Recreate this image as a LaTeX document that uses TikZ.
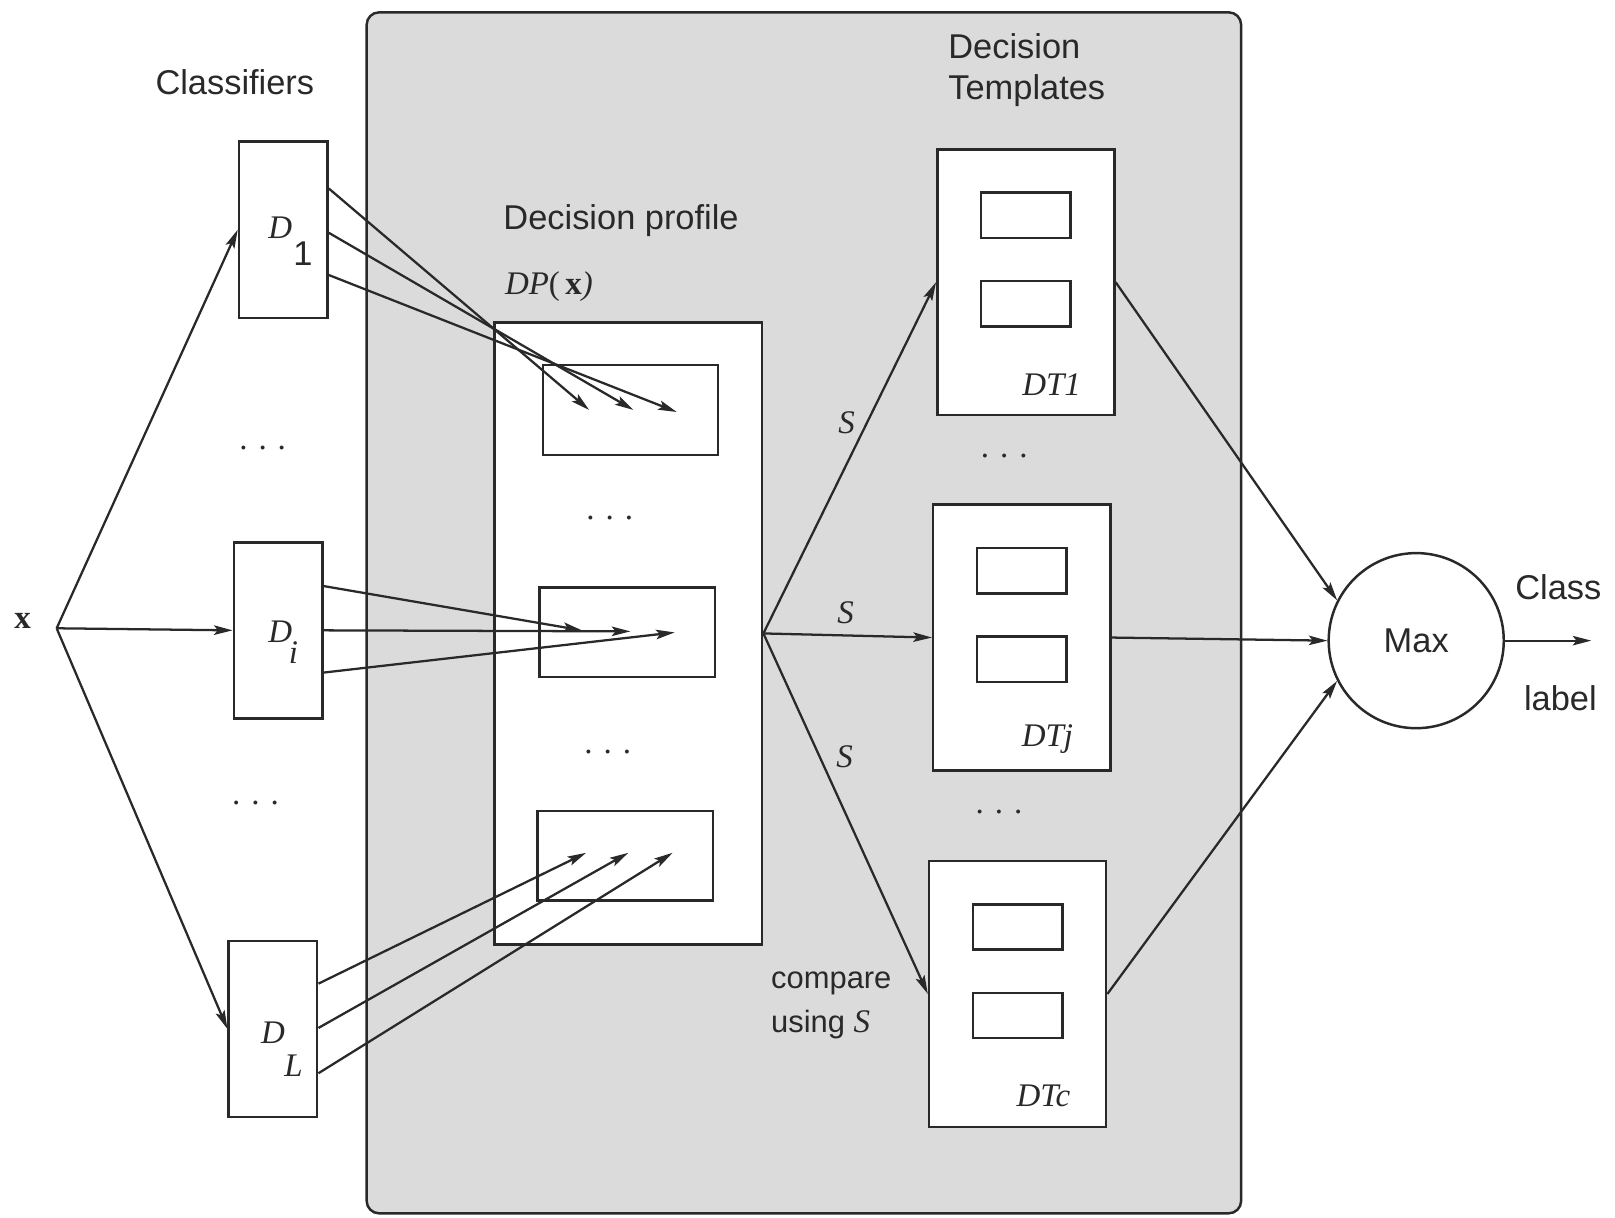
\documentclass[tikz,border=0pt]{standalone}
\usepackage{fontspec}
\setmainfont{Liberation Serif}
\setsansfont{Liberation Sans}
\usetikzlibrary{arrows.meta,calc}

\definecolor{ink}{gray}{0.16}
\definecolor{panelgray}{gray}{0.86}

\begin{document}
\begin{tikzpicture}[x=0.5pt,y=-0.5pt,color=ink,line width=1.1pt,
  sans/.style={font=\sffamily\fontsize{16.7}{19.5}\selectfont},
  smallsans/.style={font=\sffamily\fontsize{15}{21}\selectfont},
  ital/.style={font=\rmfamily\itshape\fontsize{16}{18}\selectfont},
  dotrow/.style={font=\rmfamily\fontsize{16}{16}\selectfont},
  panelbox/.style={draw,fill=panelgray,rounded corners=6pt,inner sep=0pt,line width=1.2pt},
  clsbox/.style={draw,fill=white,minimum width=43pt,minimum height=85.5pt,inner sep=0pt,line width=1.2pt},
  dpbox/.style={draw,fill=white,minimum width=130pt,minimum height=302pt,inner sep=0pt,line width=1.2pt},
  cellbox/.style={draw,fill=white,minimum width=85pt,minimum height=43.5pt,inner sep=0pt,line width=1.2pt},
  dtbox/.style={draw,fill=white,minimum width=86pt,minimum height=129pt,inner sep=0pt,line width=1.2pt},
  dtcell/.style={draw,fill=white,minimum width=43.5pt,minimum height=22pt,inner sep=0pt,line width=1.2pt},
  maxnode/.style={draw,circle,fill=white,minimum size=85pt,inner sep=0pt,line width=1.2pt},
  arr/.style={-{Stealth[length=9pt,width=4.6pt,inset=1.8pt]}}
]
\useasboundingbox[fill=white] (0,0) rectangle (1568,1182);

% shaded combiner panel
\node[panelbox,minimum width=424.5pt,minimum height=583pt] (panel) at (780.5,595) {};

% input
\node[font=\rmfamily\bfseries\fontsize{16}{18}\selectfont] (xlab) at (22,603) {x};
\coordinate (xin) at (55,610);

% classifiers
\node[sans] (cls) at (228,80) {Classifiers};
\node[clsbox] (D1) at (275,223) {};
\node[clsbox] (Di) at (270,612) {};
\node[clsbox] (DL) at (265,999) {};
\node[ital,inner sep=0pt] (d1a) at (272,221) {D};
\node[sans,inner sep=0pt] (d1b) at (294,246) {1};
\node[ital] (dia) at (272,613) {D};
\node[ital] (dib) at (285,634) {i};
\node[ital] (dla) at (265,1003) {D};
\node[ital] (dlb) at (285,1035) {L};
\node[dotrow] (cdots1) at (255,435) {. . .};
\node[dotrow] (cdots2) at (248,780) {. . .};

% decision profile
\node[sans] (dplab) at (603,214) {Decision profile};
\node[font=\rmfamily\fontsize{16}{18}\selectfont] (dpx) at (533,278) {\textit{DP}(\,\textbf{x}\textit{)}};
\node[dpbox] (DP) at (610,615) {};
\node[cellbox] (pa) at (612,398) {};
\node[cellbox] (pb) at (609,614) {};
\node[cellbox] (pc) at (607,831) {};
\node[dotrow] (pdots1) at (592,503) {. . .};
\node[dotrow] (pdots2) at (590,730) {. . .};

% decision templates
\node[sans,align=left,anchor=west] (dtlab) at (913,68) {Decision\\Templates};
\foreach \n/\cx/\cy/\lab in {DT1/996/274/DT1, DTj/992/619/DTj, DTc/988/965/DTc}{
  \node[dtbox] (\n) at (\cx,\cy) {};
  \node[dtcell] (\n u) at ($(\n.center)+(0,-65)$) {};
  \node[dtcell] (\n l) at ($(\n.center)+(0,21)$) {};
  \node[ital] (\n t) at ($(\n.center)+(25,99)$) {\lab};
}
\node[dotrow] (tdots1) at (975,443) {. . .};
\node[dotrow] (tdots2) at (970,788) {. . .};

% max and output
\node[maxnode,sans] (Max) at (1375,622) {Max};
\coordinate (out) at (1545,622);
\node[sans] (clab) at (1513,570) {Class};
\node[sans] (llab) at (1515,678) {label};

% input to classifiers
\draw[arr] (xin) -- (D1.west);
\draw[arr] (xin) -- (Di.west);
\draw[arr] (xin) -- (DL.west);

% classifier outputs into the profile rows
\draw[arr] ($(D1.east)+(0,-40)$) -- ($(pa.center)+(-40,0)$);
\draw[arr] ($(D1.east)+(0,3)$)   -- ($(pa.center)+(3,0)$);
\draw[arr] ($(D1.east)+(0,44)$)  -- ($(pa.center)+(45,2)$);

\draw[arr] ($(Di.east)+(0,-43)$) -- ($(pb.center)+(-44,-2)$);
\draw[arr] ($(Di.east)+(0,0)$)   -- ($(pb.center)+(3,-1)$);
\draw[arr] ($(Di.east)+(0,41)$)  -- ($(pb.center)+(46,0)$);

\draw[arr] ($(DL.east)+(0,-44)$) -- ($(pc.center)+(-38,-3)$);
\draw[arr] ($(DL.east)+(0,-1)$)  -- ($(pc.center)+(3,-3)$);
\draw[arr] ($(DL.east)+(0,43)$)  -- ($(pc.center)+(46,-3)$);

% comparison with the templates
\draw[arr] (DP.east) -- (DT1.west);
\draw[arr] (DP.east) -- (DTj.west);
\draw[arr] (DP.east) -- (DTc.west);
\node[ital] (s1) at (822,410) {S};
\node[ital] (s2) at (821,595) {S};
\node[ital] (s3) at (820,735) {S};
\node[smallsans,align=left,anchor=west] (cmp) at (741,976) {compare\\using \textrm{\itshape\fontsize{16}{18}\selectfont S}};

% similarities to the maximum
\draw[arr] (DT1.east) -- (Max.153);
\draw[arr] (DTj.east) -- (Max.west);
\draw[arr] (DTc.east) -- (Max.207);
\draw[arr] (Max.east) -- (out);
\end{tikzpicture}
\end{document}
